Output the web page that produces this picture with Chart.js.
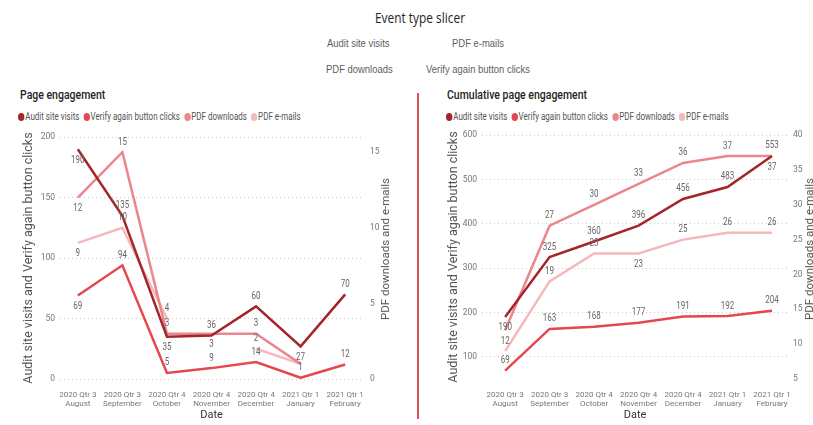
<!DOCTYPE html>
<html>
<head>
<meta charset="utf-8">
<script src="https://cdn.jsdelivr.net/npm/chart.js@4/dist/chart.umd.min.js"></script>
<style>
	body { margin: 0; width: 813px; height: 425px; background: #fff; position: relative; overflow: hidden; font-family: Roboto, sans-serif; }
	.abs { position: absolute; white-space: nowrap; transform-origin: left center; }
	#slicerTitle { left: 0; width: 840px; top: 8px; text-align: center; font-family: "Open Sans"; font-size: 14px; color: #252423; transform: scaleX(0.85); transform-origin: 420px 50%; }
	.slicer { font-family: "Liberation Sans"; font-size: 10.5px; color: #605e5c; transform: scaleX(0.9); }
	.chartTitle { font-family: Roboto; font-weight: 500; font-size: 12.5px; color: #252423; top: 87px; transform: scaleX(0.84); }
	.legend { top: 111px; font-size: 10px; color: #555; transform: scaleX(0.8); }
	.legend span { margin-right: 5px; }
	.legend i { display: inline-block; width: 8px; height: 8px; border-radius: 50%; margin-right: 1px; vertical-align: -0.5px; }
	.vtitle { position: absolute; white-space: nowrap; font-family: Roboto; font-size: 11.5px; color: #555; transform: translate(-50%, -50%) rotate(-90deg); z-index: 2; }
	#divider { left: 417px; top: 93px; width: 2px; height: 326px; background: #dc5058; }
	.wrap { position: absolute; top: 125px; height: 300px; }
</style>
</head>
<body>
<div id="slicerTitle" class="abs">Event type slicer</div>
<div class="abs slicer" style="left:327px;top:37px">Audit site visits</div>
<div class="abs slicer" style="left:452px;top:37px">PDF e-mails</div>
<div class="abs slicer" style="left:326px;top:63px">PDF downloads</div>
<div class="abs slicer" style="left:426px;top:63px">Verify again button clicks</div>

<div class="abs chartTitle" style="left:20px">Page engagement</div>
<div class="abs chartTitle" style="left:447px">Cumulative page engagement</div>
<div id="legendLeft"></div>
<div id="legendRight"></div>
<div id="divider" class="abs"></div>

<div class="wrap" style="left:0;width:410px"><canvas id="trendChart"></canvas></div>
<div class="wrap" style="left:410px;width:403px"><canvas id="cumulativeChart"></canvas></div>

<!-- right axis titles read bottom-to-top like the left ones -->
<div class="vtitle" style="left:385px;top:249px">PDF downloads and e-mails</div>
<div class="vtitle" style="left:809px;top:249px">PDF downloads and e-mails</div>

<script>
// Categories
const quarters = ['2020 Qtr 3', '2020 Qtr 3', '2020 Qtr 4', '2020 Qtr 4', '2020 Qtr 4', '2021 Qtr 1', '2021 Qtr 1'];
const months = ['August', 'September', 'October', 'November', 'December', 'January', 'February'];

// Monthly values
const auditVisits = [190, 135, 35, 36, 60, 27, 70];
const verifyClicks = [69, 94, 5, 9, 14, 1, 12];
const pdfDownloads = [12, 15, 3, 3, 3, 1, null];
const pdfEmails = [9, 10, 4, null, 2, 1, null];

// Cumulative values
const auditCumulative = [190, 325, 360, 396, 456, 483, 553];
const verifyCumulative = [69, 163, 168, 177, 191, 192, 204];
const downloadsCumulative = [12, 27, 30, 33, 36, 37, 37];
const emailsCumulative = [9, 19, 23, 23, 25, 26, 26];

// Tick labels
const trendLeftTicks = [0, 50, 100, 150, 200];
const trendRightTicks = [0, 5, 10, 15];
const cumLeftTicks = [100, 200, 300, 400, 500, 600];
const cumRightTicks = [5, 10, 15, 20, 25, 30, 35, 40];

const seriesNames = ['Audit site visits', 'Verify again button clicks', 'PDF downloads', 'PDF e-mails'];
const colors = ['#a4262c', '#e5474f', '#ec868b', '#f4b9bc'];

const xTickFont = { family: 'Roboto', size: 8 };
const yTickFont = { family: 'Roboto', size: 8.5 };
const tickColor = '#777';
const titleFont = { family: 'Roboto', size: 12.5 };

// Legends
function makeLegend(id, left) {
	let el = document.getElementById(id);
	el.className = 'abs legend';
	el.style.left = left + 'px';
	el.innerHTML = seriesNames.map((n, i) =>
		`<span><i style="background:${colors[i]}"></i>${n}</span>`).join('');
}
makeLegend('legendLeft', 18);
makeLegend('legendRight', 446);

// Value labels, placed above (a) or below (b) each point
const pointLabels = {
	id: 'pointLabels',
	afterDatasetsDraw(chart) {
		let ctx = chart.ctx;
		ctx.save();
		ctx.font = '10px Roboto';
		ctx.fillStyle = '#666';
		ctx.textAlign = 'center';
		ctx.textBaseline = 'middle';
		chart.data.datasets.forEach((ds, di) => {
			let meta = chart.getDatasetMeta(di);
			meta.data.forEach((pt, i) => {
				let v = ds.data[i].y;
				let pos = ds.labelPos[i];
				if (v == null || !pos) return;
				ctx.save();
				ctx.translate(pt.x, pt.y + (pos == 'b' ? 11 : -10));
				ctx.scale(0.8, 1);
				ctx.fillText(v, 0, 0);
				ctx.restore();
			});
		});
		ctx.restore();
	}
};

function series(values, idx, axis, labelPos) {
	return {
		label: seriesNames[idx],
		data: values.map((v, i) => ({ x: i, y: v })),
		borderColor: colors[idx],
		backgroundColor: colors[idx],
		borderWidth: 2.5,
		pointRadius: 0,
		tension: 0,
		spanGaps: false,
		yAxisID: axis,
		labelPos: labelPos,
		order: idx
	};
}

function makeChart(id, config) {
	let context = document.querySelector('#' + id);
	return new Chart(context, {
		type: 'line',
		data: { datasets: config.datasets },
		options: {
			maintainAspectRatio: false,
			responsive: true,
			animation: false,
			layout: { padding: { top: 10, left: 0, right: 0, bottom: 0 } },
			plugins: { legend: { display: false }, tooltip: { enabled: false } },
			scales: {
				x: {
					type: 'linear',
					min: config.xMin,
					max: config.xMax,
					afterBuildTicks: s => { s.ticks = months.map((m, i) => ({ value: i })); },
					afterFit: s => { s.height = 46; },
					grid: { display: false },
					border: { display: false },
					ticks: {
						autoSkip: false, maxRotation: 0, padding: 3,
						font: xTickFont, color: tickColor,
						callback: v => [quarters[v], months[v]]
					},
					title: { display: true, text: 'Date', font: { family: 'Roboto', size: 11 }, color: '#333', padding: { top: 0, bottom: 3 } }
				},
				y: {
					position: 'left',
					min: config.leftMin,
					max: config.leftMax,
					afterBuildTicks: s => { s.ticks = config.leftTicks.map(v => ({ value: v })); },
					afterFit: s => { s.width = config.leftWidth; },
					grid: { color: '#c8c8c8', lineWidth: 1, drawTicks: false },
					border: { display: false, dash: [1, 3] },
					ticks: { font: yTickFont, color: tickColor, padding: 5 },
					title: { display: true, text: 'Audit site visits and Verify again button clicks', font: titleFont, color: '#555', padding: { top: config.leftTitlePad, bottom: 0 } }
				},
				y1: {
					position: 'right',
					min: config.rightMin,
					max: config.rightMax,
					afterBuildTicks: s => { s.ticks = config.rightTicks.map(v => ({ value: v })); },
					afterFit: s => { s.width = config.rightWidth; },
					grid: { display: false, drawTicks: false },
					border: { display: false },
					ticks: { font: yTickFont, color: tickColor, padding: config.rightTickPad }
				}
			}
		},
		plugins: [pointLabels]
	});
}

makeChart('trendChart', {
	xMin: -0.4, xMax: 6.4,
	leftMin: 0, leftMax: 200, leftTicks: trendLeftTicks, leftWidth: 60, leftTitlePad: 21,
	rightMin: 0, rightMax: 16, rightTicks: trendRightTicks, rightWidth: 47, rightTickPad: 7,
	datasets: [
		series(auditVisits, 0, 'y', ['b', 'a', 'b', 'a', 'a', 'b', 'a']),
		series(verifyClicks, 1, 'y', ['b', 'a', 'a', 'a', 'a', 'a', 'a']),
		series(pdfDownloads, 2, 'y1', ['b', 'a', 'a', 'b', 'a', '', '']),
		series(pdfEmails, 3, 'y1', ['b', 'a', 'a', '', 'a', '', ''])
	]
});

makeChart('cumulativeChart', {
	xMin: -0.52, xMax: 6.36,
	leftMin: 50, leftMax: 600, leftTicks: cumLeftTicks, leftWidth: 72, leftTitlePad: 36,
	rightMin: 5, rightMax: 40, rightTicks: cumRightTicks, rightWidth: 25, rightTickPad: 5,
	datasets: [
		series(auditCumulative, 0, 'y', ['b', 'a', 'a', 'a', 'a', 'a', 'a']),
		series(verifyCumulative, 1, 'y', ['a', 'a', 'a', 'a', 'a', 'a', 'a']),
		series(downloadsCumulative, 2, 'y1', ['b', 'a', 'a', 'a', 'a', 'a', 'b']),
		series(emailsCumulative, 3, 'y1', ['', 'a', 'a', 'b', 'a', 'a', 'a'])
	]
});
</script>
</body>
</html>
